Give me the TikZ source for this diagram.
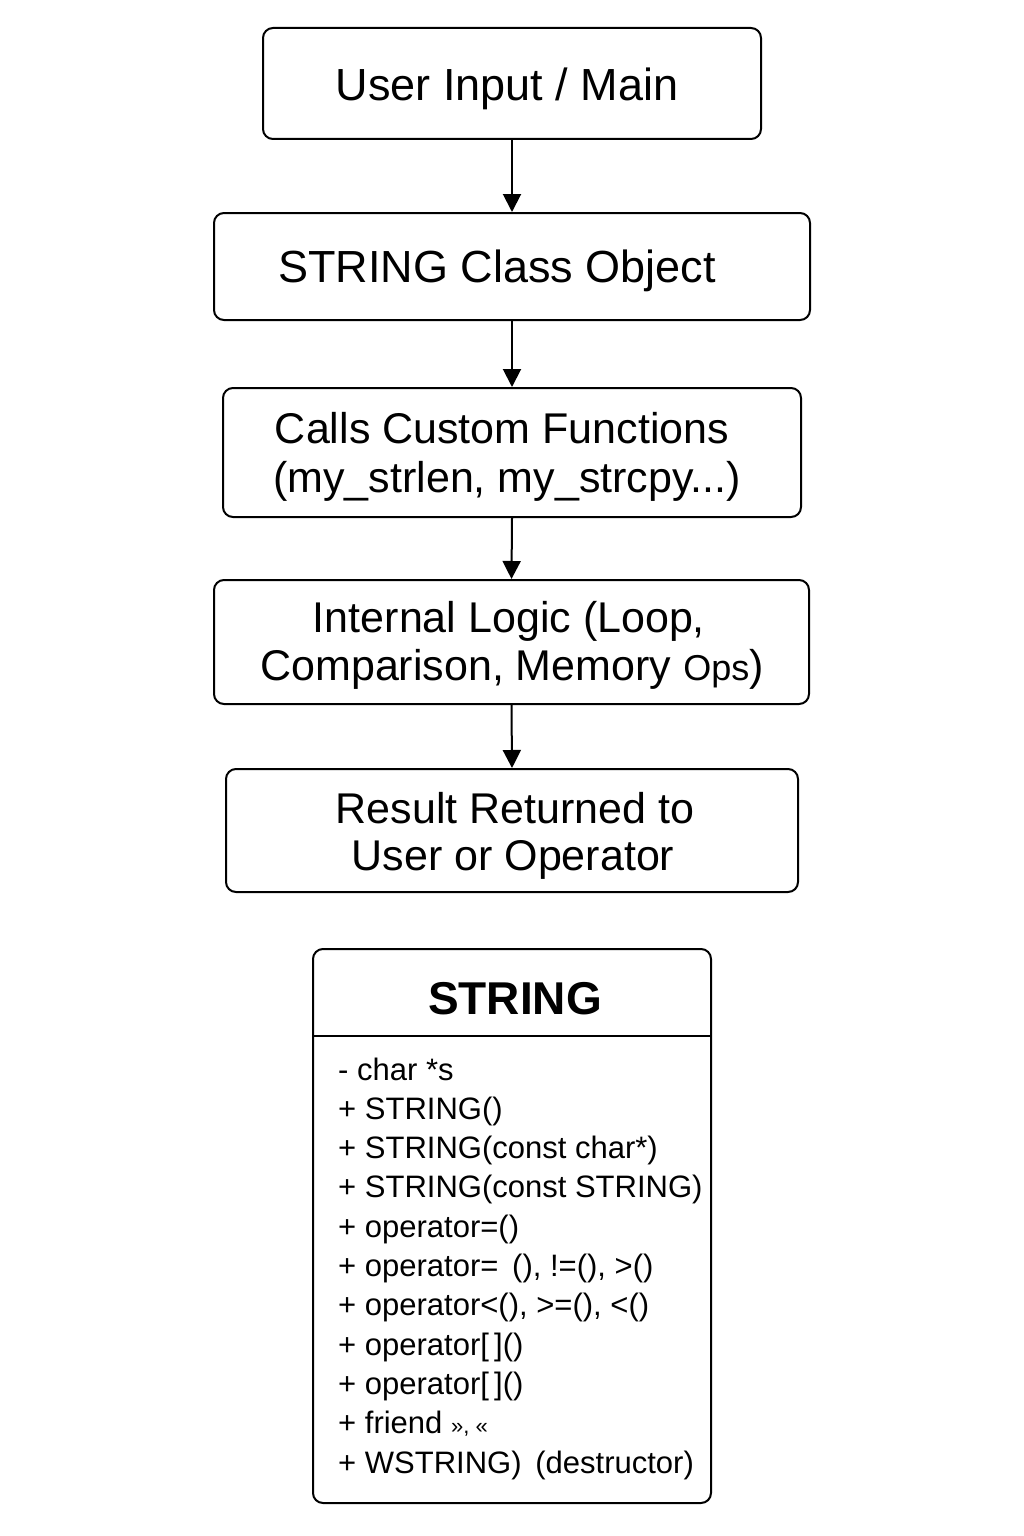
\documentclass[tikz,border=0pt]{standalone}
\usepackage{fontspec}
\setmainfont{Liberation Sans}
\usetikzlibrary{arrows.meta}
\begin{document}
\begin{tikzpicture}[x=1pt,y=-1pt,
  box/.style={draw, line width=2pt, rounded corners=10pt, inner sep=0pt},
  big/.style={font=\fontsize{45}{52}\selectfont, inner sep=0pt, anchor=base},
  mid/.style={font=\fontsize{43}{50}\selectfont, inner sep=0pt, anchor=base},
  item/.style={font=\fontsize{31}{36}\selectfont, inner sep=0pt, anchor=base west},
  arr/.style={line width=2pt, -{Triangle[width=18pt,length=18pt]}}]
\useasboundingbox (0,0) rectangle (1024,1536);
\fill[white] (0,0) rectangle (1024,1536);
% flow boxes
\node[box, minimum width=498pt, minimum height=111pt] (b1) at (512,83.5) {};
\node[box, minimum width=596pt, minimum height=107pt] (b2) at (512,266.5) {};
\node[box, minimum width=578pt, minimum height=129pt] (b3) at (512,452.5) {};
\node[box, minimum width=595pt, minimum height=124pt] (b4) at (511.5,642) {};
\node[box, minimum width=572pt, minimum height=123pt] (b5) at (512,830.5) {};
% texts
\node[big] (t1) at (507,101) {User Input / Main};
\node[big] (t2) at (497,282) {STRING Class Object};
\node[mid] (t3a) at (502,443) {Calls Custom Functions};
\node[mid] (t3b) at (507,492) {(my\_strlen, my\_strcpy...)};
\node[mid] (t4a) at (509,632) {Internal Logic (Loop,};
\node[mid] (t4b) at (512,680) {Comparison, Memory {\fontsize{36}{40}\selectfont Ops})};
\node[mid] (t5a) at (515,823) {Result Returned to};
\node[mid] (t5b) at (513,870) {User or Operator};
% arrows
\draw[arr] (b1.south) -- (b2.north);
\draw[arr] (b2.south) -- (b3.north);
\draw[arr] (b3.south) -- (b4.north);
\draw[arr] (b4.south) -- (b5.north);
% class box
\node[box, minimum width=398pt, minimum height=554pt] (cls) at (512,1226) {};
\coordinate (dl) at (313,1036);
\coordinate (dr) at (711,1036);
\draw[line width=1.6pt] (dl) -- (dr);
\node[font=\bfseries\fontsize{46}{52}\selectfont, anchor=base, inner sep=0pt] (ch) at (515,1014) {STRING};
\foreach \t [count=\i] in {
  {- char *s},
  {+ STRING()},
  {+ STRING(const char*)},
  {+ STRING(const STRING)},
  {+ operator=()},
  {+ operator= \,(), !=(), >()},
  {+ operator<(), >=(), <()},
  {+ operator[\,]()},
  {+ operator[\,]()},
  {+ friend {\fontsize{22}{24}\selectfont >>, <<}},
  {+ WSTRING) \,(destructor)}}
  \node[item] (m\i) at (338,{1080+39.3*(\i-1)}) {\t};
\end{tikzpicture}
\end{document}
